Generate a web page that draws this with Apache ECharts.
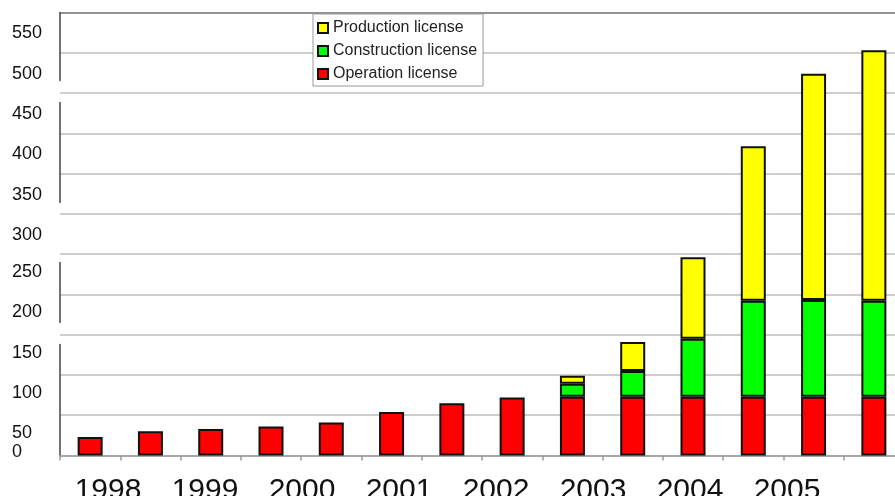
<!DOCTYPE html>
<html>
<head>
<meta charset="utf-8">
<script src="https://cdn.jsdelivr.net/npm/echarts@6/dist/echarts.min.js"></script>
<style>
  html, body { margin: 0; padding: 0; background: #fff; }
</style>
</head>
<body>
<div id="myChart" style="width:895px;height:496px;"></div>
<script>
// 14 bar slots along the x axis, the years are printed on their own axis below
var barSlots = ["1", "2", "3", "4", "5", "6", "7", "8", "9", "10", "11", "12", "13", "14"];
var yearLabels = ["1998", "1999", "2000", "2001", "2002", "2003", "2004", "2005"];

var operation = [23, 30, 33, 36, 41, 54, 65, 72, 73, 73, 73, 73, 73, 73];
var construction = ["-", "-", "-", "-", "-", "-", "-", "-", 16, 32, 72, 119, 120, 119];
var production = ["-", "-", "-", "-", "-", "-", "-", "-", 10, 36, 101, 192, 281, 311];

var yMin = 0, yMax = 550, yStep = 50;

var myChart = echarts.init(document.getElementById("myChart"));

var gridColors = [];
for (var i = 0; i < (yMax - yMin) / yStep; i++) {
  gridColors.push("#bdbdbd");
}
gridColors.push("#6e6e6e"); // top border line

var barBorder = { borderColor: "#111", borderWidth: 2 };

var option = {
  backgroundColor: "#fff",
  animation: false,
  textStyle: { fontFamily: "Liberation Sans, Arial, sans-serif" },
  legend: {
    orient: "vertical",
    left: 313,
    top: 14,
    padding: [6, 6, 4, 4],
    backgroundColor: "#fff",
    borderColor: "#999",
    borderWidth: 1,
    itemWidth: 10,
    itemHeight: 10,
    itemGap: 7,
    icon: "rect",
    textStyle: { fontSize: 16, color: "#222" },
    data: ["Production license", "Construction license", "Operation license"]
  },
  grid: [
    { left: 60, top: 12.5, width: 844, height: 443, outerBoundsMode: "none" },
    { left: 59.5, top: 12.5, width: 776, height: 443, outerBoundsMode: "none" }
  ],
  xAxis: [
    {
      type: "category",
      gridIndex: 0,
      data: barSlots,
      axisLine: { lineStyle: { color: "#9a9a9a", width: 1.5 } },
      axisTick: { show: true, length: 5, lineStyle: { color: "#9a9a9a", width: 1.5 } },
      axisLabel: { show: false },
      splitLine: { show: false }
    },
    {
      type: "category",
      gridIndex: 1,
      data: yearLabels,
      axisLine: { show: false },
      axisTick: { show: false },
      axisLabel: { fontSize: 30, color: "#111", margin: 20 }
    }
  ],
  yAxis: [
    {
      type: "value",
      gridIndex: 0,
      min: yMin,
      max: yMax,
      interval: yStep,
      axisLine: {
        show: true,
        lineStyle: { color: "#444", width: 1.5, type: [111, 22, 60, 60, 100, 22, 80] }
      },
      axisTick: { show: false },
      splitLine: { lineStyle: { color: gridColors, width: 1.5 } },
      axisLabel: {
        align: "left",
        margin: 48,
        verticalAlign: "middle",
        formatter: function (v) {
          if (v === 0) return "{z|0}";
          return v >= 300 ? "{a|" + v + "}" : "{b|" + v + "}";
        },
        rich: {
          a: { fontSize: 18, color: "#111", padding: [42, 0, 0, 0] },
          b: { fontSize: 18, color: "#111", padding: [36, 0, 0, 0] },
          z: { fontSize: 18, color: "#111", padding: [0, 0, 6, 0] }
        }
      }
    },
    { type: "value", gridIndex: 1, show: false }
  ],
  series: [
    {
      name: "Operation license",
      type: "bar",
      stack: "licenses",
      barWidth: 25,
      xAxisIndex: 0,
      yAxisIndex: 0,
      itemStyle: Object.assign({ color: "#ff0000" }, barBorder),
      data: operation
    },
    {
      name: "Construction license",
      type: "bar",
      stack: "licenses",
      barWidth: 25,
      xAxisIndex: 0,
      yAxisIndex: 0,
      itemStyle: Object.assign({ color: "#00ff00" }, barBorder),
      data: construction
    },
    {
      name: "Production license",
      type: "bar",
      stack: "licenses",
      barWidth: 25,
      xAxisIndex: 0,
      yAxisIndex: 0,
      itemStyle: Object.assign({ color: "#ffff00" }, barBorder),
      data: production
    }
  ]
};
myChart.setOption(option);
</script>
</body>
</html>
